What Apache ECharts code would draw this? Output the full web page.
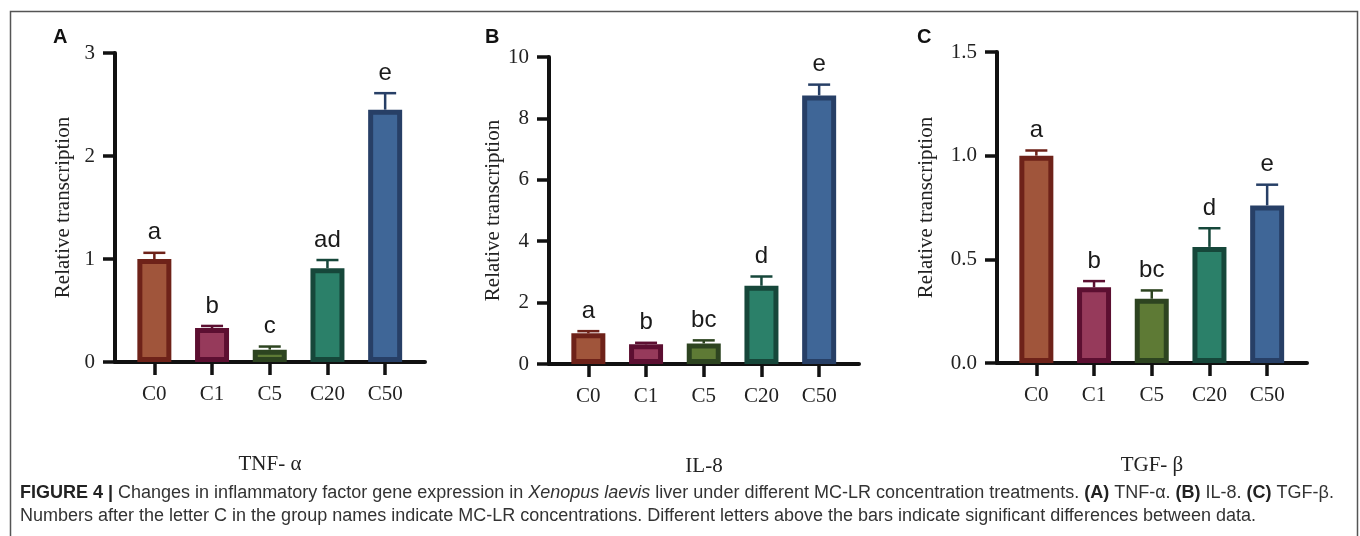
<!DOCTYPE html>
<html>
<head>
<meta charset="utf-8">
<script src="https://cdn.jsdelivr.net/npm/echarts@6/dist/echarts.min.js"></script>
<style>
  html, body { margin: 0; padding: 0; background: #fff; }
  #main { width: 1360px; height: 536px; }
</style>
</head>
<body>
<div id="main"></div>
<script>
var categories = ['C0', 'C1', 'C5', 'C20', 'C50'];

// TNF-α
var tnfMean = [1.0, 0.33, 0.12, 0.91, 2.45];
var tnfErr = [0.06, 0.02, 0.03, 0.08, 0.16];
var tnfLetters = ['a', 'b', 'c', 'ad', 'e'];

// IL-8
var il8Mean = [1.0, 0.64, 0.67, 2.55, 8.75];
var il8Err = [0.07, 0.05, 0.1, 0.3, 0.35];
var il8Letters = ['a', 'b', 'bc', 'd', 'e'];

// TGF-β
var tgfMean = [1.0, 0.365, 0.31, 0.56, 0.76];
var tgfErr = [0.025, 0.03, 0.04, 0.09, 0.1];
var tgfLetters = ['a', 'b', 'bc', 'd', 'e'];

var fills = ['#a0553b', '#963a5b', '#5e7a35', '#2b8069', '#3f6697'];
var borders = ['#6e2219', '#5c0f31', '#2d4420', '#16473a', '#273f66'];

var serif = 'Liberation Serif';

var panels = [
	{ tag: 'A', name: 'TNF- α', mean: tnfMean, err: tnfErr, letters: tnfLetters,
	  left: 115, top: 53, zero: 362, max: 3, interval: 1, digits: 0, nameGap: 41, labelX: 53 },
	{ tag: 'B', name: 'IL-8', mean: il8Mean, err: il8Err, letters: il8Letters,
	  left: 549, top: 57, zero: 364, max: 10, interval: 2, digits: 0, nameGap: 41, labelX: 485 },
	{ tag: 'C', name: 'TGF- β', mean: tgfMean, err: tgfErr, letters: tgfLetters,
	  left: 997, top: 52, zero: 363, max: 1.5, interval: 0.5, digits: 1, nameGap: 60, labelX: 917 }
];

var chart = echarts.init(document.getElementById('main'));

var grids = [], xAxes = [], yAxes = [], series = [], graphics = [];

panels.forEach(function(p, k){
	var frame = 2 * k, bars = 2 * k + 1;
	// axis frame grid (axis lines + y ticks)
	grids.push({ left: p.left, top: p.top, width: 310, bottom: 536 - p.zero });
	// bar grid, slightly narrower so categories sit inside the axis line
	grids.push({ left: p.left + 10.5, top: p.top, width: 288.5, bottom: 536 - p.zero });

	xAxes.push({
		type: 'value', gridIndex: frame, min: 0, max: 1,
		axisLine: { show: true, lineStyle: { color: '#111', width: 4 } },
		axisTick: { show: false }, axisLabel: { show: false }, splitLine: { show: false },
		name: p.name, nameLocation: 'middle', nameGap: 92,
		nameTextStyle: { fontFamily: serif, fontSize: 21, color: '#222' }
	});
	xAxes.push({
		type: 'category', gridIndex: bars, data: categories,
		axisLine: { show: false },
		axisTick: { show: true, alignWithLabel: true, length: 13, lineStyle: { color: '#111', width: 3.5 } },
		axisLabel: { margin: 22, fontFamily: serif, fontSize: 21, color: '#222' },
		splitLine: { show: false }
	});

	yAxes.push({
		type: 'value', gridIndex: frame, min: 0, max: p.max, interval: p.interval,
		axisLine: { show: true, lineStyle: { color: '#111', width: 4 } },
		axisTick: { show: true, length: 12, lineStyle: { color: '#111', width: 3.5 } },
		axisLabel: { margin: 20, fontFamily: serif, fontSize: 21, color: '#222',
			formatter: function(v){ return v.toFixed(p.digits); } },
		splitLine: { show: false },
		name: 'Relative transcription', nameLocation: 'middle', nameRotate: 90, nameGap: p.nameGap,
		nameTextStyle: { fontFamily: serif, fontSize: 21, color: '#222' }
	});
	yAxes.push({
		type: 'value', gridIndex: bars, min: 0, max: p.max, interval: p.interval, show: false
	});

	series.push({
		type: 'custom', xAxisIndex: bars, yAxisIndex: bars, z: 1, silent: true,
		data: p.mean.map(function(m, i){ return [i, m, m + p.err[i]]; }),
		renderItem: function(params, api){
			var i = params.dataIndex;
			var base = api.coord([api.value(0), api.value(1)]);
			var top = api.coord([api.value(0), api.value(2)]);
			var c = borders[i];
			return {
				type: 'group',
				children: [
					{ type: 'line', shape: { x1: base[0], y1: base[1], x2: base[0], y2: top[1] },
					  style: { stroke: c, lineWidth: 2.5 } },
					{ type: 'line', shape: { x1: base[0] - 11, y1: top[1], x2: base[0] + 11, y2: top[1] },
					  style: { stroke: c, lineWidth: 2.5 } },
					{ type: 'text', x: base[0], y: top[1] - 8,
					  style: { text: p.letters[i], fontFamily: 'Liberation Sans', fontSize: 24,
					           fill: '#1a1a1a', align: 'center', verticalAlign: 'bottom' } }
				]
			};
		}
	});
	series.push({
		type: 'bar', xAxisIndex: bars, yAxisIndex: bars, z: 2, barWidth: 34, silent: true,
		data: p.mean.map(function(m, i){
			return { value: m, itemStyle: { color: fills[i], borderColor: borders[i], borderWidth: 5 } };
		})
	});

	graphics.push({
		type: 'text', left: p.labelX, top: 27,
		style: { text: p.tag, fontFamily: 'Liberation Sans', fontWeight: 'bold', fontSize: 20, fill: '#111' }
	});
});

// outer frame
graphics.push({
	type: 'rect', left: 8, top: 9, z: -1,
	shape: { width: 1347, height: 600 },
	style: { fill: 'none', stroke: '#555', lineWidth: 1.5 }
});

var capFont = 'Liberation Sans';
graphics.push({
	type: 'text', left: 20, top: 484,
	style: {
		text: '{b|FIGURE 4 |} Changes in inflammatory factor gene expression in {i|Xenopus laevis} liver under different MC-LR concentration treatments. {b|(A)} TNF-α. {b|(B)} IL-8. {b|(C)} TGF-β.',
		fontFamily: capFont, fontSize: 18, fill: '#333',
		rich: {
			b: { fontFamily: capFont, fontSize: 18, fontWeight: 'bold', fill: '#222' },
			i: { fontFamily: capFont, fontSize: 18, fontStyle: 'italic', fill: '#333' }
		}
	}
});
graphics.push({
	type: 'text', left: 20, top: 507,
	style: {
		text: 'Numbers after the letter C in the group names indicate MC-LR concentrations. Different letters above the bars indicate significant differences between data.',
		fontFamily: capFont, fontSize: 18, fill: '#333'
	}
});

chart.setOption({
	animation: false,
	backgroundColor: '#fff',
	grid: grids,
	xAxis: xAxes,
	yAxis: yAxes,
	series: series,
	graphic: graphics
});
</script>
</body>
</html>
